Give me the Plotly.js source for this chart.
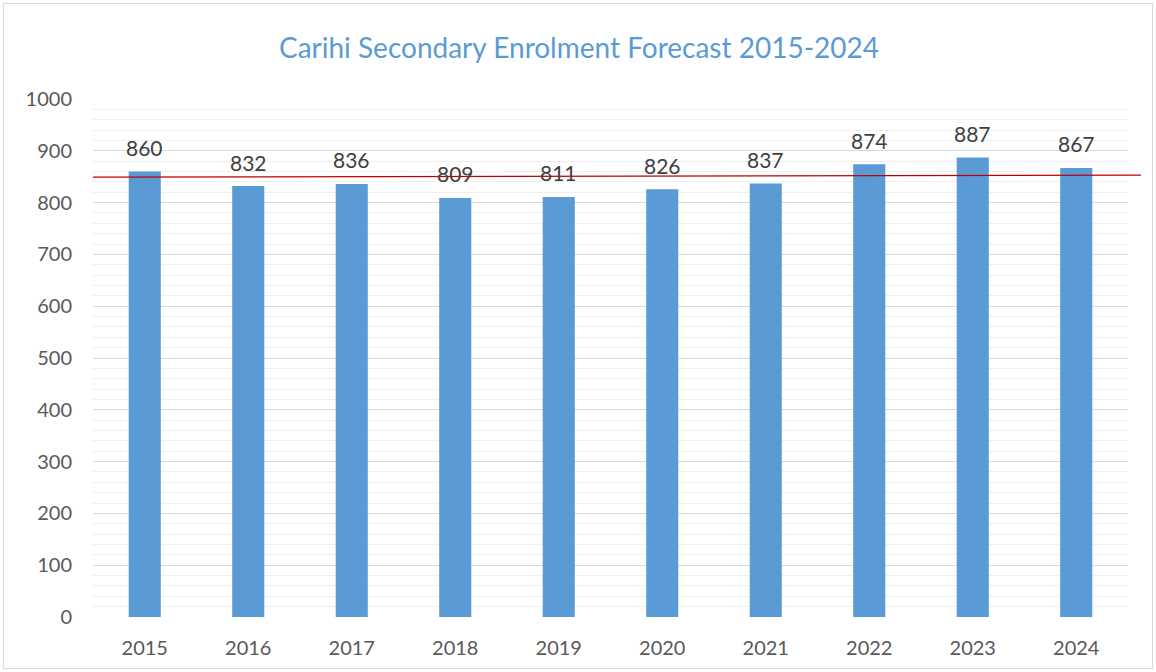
<!DOCTYPE html>
<html><head><meta charset="utf-8">
<script src="https://cdn.plot.ly/plotly-3.0.1.min.js"></script>
<style>
html,body{margin:0;padding:0;background:#fff;}
#chart{position:absolute;left:3px;top:3px;width:1150px;height:666px;border:1px solid #d9d9d9;box-sizing:border-box;}
</style>
</head><body>
<div id="chart"></div>
<script>
const years = ['2015','2016','2017','2018','2019','2020','2021','2022','2023','2024'];
const enrolment = [860, 832, 836, 809, 811, 826, 837, 874, 887, 867];
const referenceLineStart = 849;
const referenceLineEnd = 853;

const font = 'Lato, sans-serif';

const trace = {
  type: 'bar',
  x: years,
  y: enrolment,
  marker: {color: '#5B9BD5'},
  hoverinfo: 'x+y'
};

const labels = years.map((yr, i) => ({
  x: i, y: enrolment[i], xref: 'x', yref: 'y',
  text: String(enrolment[i]), showarrow: false,
  yanchor: 'middle', yshift: 24,
  font: {family: font, size: 21, color: '#404040'}
}));

const layout = {
  width: 1150, height: 666,
  margin: {l: 89, r: 26, t: 95, b: 53},
  paper_bgcolor: 'rgba(0,0,0,0)',
  plot_bgcolor: '#fff',
  bargap: 0.69,
  showlegend: false,
  title: {text: 'Carihi Secondary Enrolment Forecast 2015-2024', x: 0.5, xanchor: 'center', y: 0.934, yanchor: 'middle',
          font: {family: font, size: 28, color: '#5B9BD5'}},
  xaxis: {type: 'category', range: [-0.5, years.length - 0.5], showgrid: false, zeroline: false, showline: false, ticks: '',
          tickfont: {family: font, size: 20, color: '#595959'}, ticklabelstandoff: 17},
  yaxis: {range: [0, 1000], dtick: 100, showline: false, zeroline: false, ticks: '',
          gridcolor: '#d9d9d9', gridwidth: 1,
          minor: {dtick: 20, showgrid: true, gridcolor: '#efefef', gridwidth: 1},
          tickfont: {family: font, size: 20, color: '#595959'}, ticklabelstandoff: 20},
  annotations: labels,
  shapes: [{type: 'line', xref: 'paper', yref: 'y', x0: 0, x1: 1.0125, y0: referenceLineStart, y1: referenceLineEnd,
            line: {color: '#C00000', width: 1.3}, layer: 'above'}]
};

Plotly.newPlot('chart', [trace], layout, {displayModeBar: false, staticPlot: true});
</script>
</body></html>
